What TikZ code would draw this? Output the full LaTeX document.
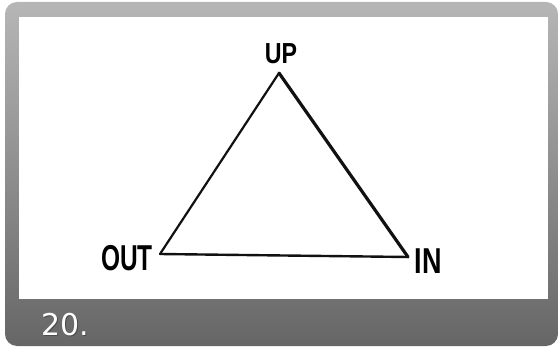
\documentclass[tikz,border=0pt]{standalone}
\usepackage{fontspec}
\usepackage{graphicx}
\setmainfont{Liberation Sans}
\newfontfamily\numfont{DejaVu Sans}
\definecolor{frametop}{HTML}{B6B6B6}
\definecolor{framebot}{HTML}{666666}
\definecolor{inkline}{HTML}{111111}
\tikzset{
  vlabel/.style={inner sep=0pt, anchor=center, text=black, font=\bfseries},
  side/.style={draw=inkline, line cap=round, line join=round},
}
\begin{document}
\begin{tikzpicture}[x=1pt,y=1pt]
\useasboundingbox (0,0) rectangle (559,348);
% frame
\shade[top color=frametop, bottom color=framebot, rounded corners=12pt] (5,2) rectangle (558,346);
\fill[white] (19,49) rectangle (548,331);
% caption
\node[anchor=base west, inner sep=0pt, text=black!70, font=\numfont\fontsize{30}{30}\selectfont] at (42.5,11.5) {20.};
\node (cap) [anchor=base west, inner sep=0pt, text=white, font=\numfont\fontsize{30}{30}\selectfont] at (41,13) {20.};
% vertices
\coordinate (up) at (279,275);
\coordinate (out) at (160,94);
\coordinate (in) at (408,91);
% triangle
\draw[side, line width=3.2pt] (up) -- (in);
\draw[side, line width=2.2pt] (up) -- (out);
\draw[side, line width=2.4pt] (out) -- (in);
% labels
\node (lup) [vlabel, font=\bfseries\fontsize{29}{29}\selectfont] at (281,294.5) {\scalebox{0.8}[1]{UP}};
\node (lout) [vlabel, font=\bfseries\fontsize{36}{36}\selectfont] at (127,89.5) {\scalebox{0.68}[1]{OUT}};
\node (lin) [vlabel, font=\bfseries\fontsize{36}{36}\selectfont] at (428,86.5) {\scalebox{0.75}[1]{IN}};
\end{tikzpicture}
\end{document}
